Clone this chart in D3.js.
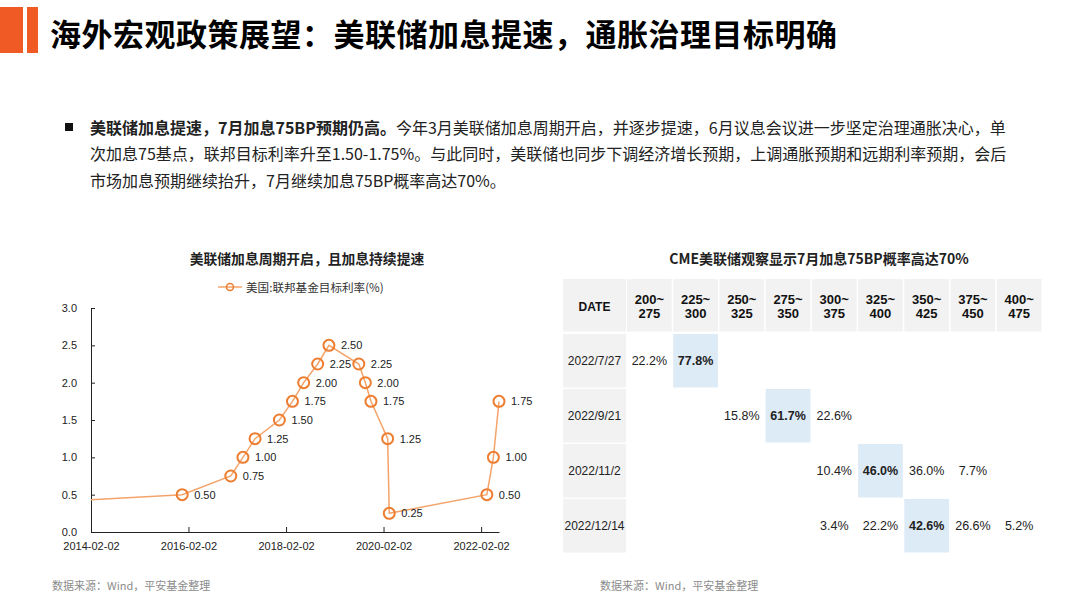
<!DOCTYPE html>
<html><head><meta charset="utf-8">
<script src="https://cdn.jsdelivr.net/npm/d3@7"></script>
<style>
html,body{margin:0;padding:0;background:#fff;}
svg{display:block;}
</style></head>
<body>
<svg id="c" width="1080" height="605"></svg>
<script>
// ---------------- DATA ----------------
const pageTitle = "海外宏观政策展望：美联储加息提速，通胀治理目标明确";
const paraBold = "美联储加息提速，7月加息75BP预期仍高。";
const paraLines = [
  "今年3月美联储加息周期开启，并逐步提速，6月议息会议进一步坚定治理通胀决心，单",
  "次加息75基点，联邦目标利率升至1.50-1.75%。与此同时，美联储也同步下调经济增长预期，上调通胀预期和远期利率预期，会后",
  "市场加息预期继续抬升，7月继续加息75BP概率高达70%。"
];
const leftTitle = "美联储加息周期开启，且加息持续提速";
const seriesName = "美国:联邦基金目标利率(%)";
const rateDates = ["2008-12-16","2015-12-17","2016-12-15","2017-03-16","2017-06-15","2017-12-14","2018-03-22","2018-06-14","2018-09-27","2018-12-20","2019-08-01","2019-09-19","2019-10-31","2020-03-04","2020-03-16","2022-03-17","2022-05-05","2022-06-16"];
const rateValues = [0.25,0.50,0.75,1.00,1.25,1.50,1.75,2.00,2.25,2.50,2.25,2.00,1.75,1.25,0.25,0.50,1.00,1.75];
const xTickDates = ["2014-02-02","2016-02-02","2018-02-02","2020-02-02","2022-02-02"];
const yTickValues = [0,0.5,1.0,1.5,2.0,2.5,3.0];
const xDomain = ["2014-02-02","2022-06-16"];

const rightTitle = "CME美联储观察显示7月加息75BP概率高达70%";
const dateHeader = "DATE";
const binLabels = [["200~","275"],["225~","300"],["250~","325"],["275~","350"],["300~","375"],["325~","400"],["350~","425"],["375~","450"],["400~","475"]];
const meetingDates = ["2022/7/27","2022/9/21","2022/11/2","2022/12/14"];
const probRow1 = [22.2,77.8,null,null,null,null,null,null,null];
const probRow2 = [null,null,15.8,61.7,22.6,null,null,null,null];
const probRow3 = [null,null,null,null,10.4,46.0,36.0,7.7,null];
const probRow4 = [null,null,null,null,3.4,22.2,42.6,26.6,5.2];
const probRows = [probRow1,probRow2,probRow3,probRow4];
const sourceText = "数据来源：Wind，平安基金整理";

// ---------------- DRAW ----------------
const svg = d3.select("#c");
const CJK = "'Noto Sans CJK SC','Noto Sans',sans-serif";
const LAT = "'Liberation Sans',Arial,sans-serif";
const parse = d3.timeParse("%Y-%m-%d");

// header bars
svg.append("rect").attr("x",0).attr("y",7).attr("width",23).attr("height",46).attr("fill","#F05A24");
svg.append("rect").attr("x",27).attr("y",7).attr("width",11).attr("height",46).attr("fill","#F05A24");
svg.append("text").attr("x",50).attr("y",32).attr("dominant-baseline","central")
  .attr("font-family",CJK).attr("font-weight","bold").attr("font-size",31).attr("letter-spacing",0.5).attr("fill","#000")
  .text(pageTitle);

// paragraph
svg.append("rect").attr("x",65).attr("y",123).attr("width",8).attr("height",8).attr("fill","#111");
const lineY = [126.5,153,179.5];
paraLines.forEach((ln,i)=>{
  const t = svg.append("text").attr("x",90).attr("y",lineY[i]).attr("dominant-baseline","central")
    .attr("font-family",CJK).attr("font-size",16).attr("fill","#222");
  if(i===0){ t.append("tspan").attr("font-weight","bold").text(paraBold); }
  t.append("tspan").text(ln);
});

// ---------- left chart ----------
svg.append("text").attr("x",307).attr("y",258).attr("text-anchor","middle").attr("dominant-baseline","central")
  .attr("font-family",CJK).attr("font-weight","bold").attr("font-size",13.8).attr("fill","#222").text(leftTitle);
// legend
svg.append("line").attr("x1",218).attr("x2",242).attr("y1",287).attr("y2",287).attr("stroke","#F4A46A").attr("stroke-width",1.5);
svg.append("circle").attr("cx",230).attr("cy",287).attr("r",3.5).attr("fill","none").attr("stroke","#ED7D31").attr("stroke-width",1.5);
svg.append("text").attr("x",246).attr("y",287).attr("dominant-baseline","central")
  .attr("font-family",CJK).attr("font-size",11.6).attr("fill","#333").text(seriesName);

const x = d3.scaleTime().domain(xDomain.map(parse)).range([91,499]);
const y = d3.scaleLinear().domain([0,3]).range([532,308]);

const yAxis = d3.axisLeft(y).tickValues(yTickValues).tickFormat(d3.format(".1f")).tickSizeInner(-4).tickSizeOuter(0).tickPadding(14);
const gy = svg.append("g").attr("transform","translate(91,0)").call(yAxis);
const xAxis = d3.axisBottom(x).tickValues(xTickDates.map(parse)).tickFormat(d3.timeFormat("%Y-%m-%d")).tickSizeInner(-5).tickSizeOuter(0).tickPadding(10);
const gx = svg.append("g").attr("transform","translate(0,532)").call(xAxis);
[gx,gy].forEach(g=>{
  g.selectAll("path,line").attr("stroke","#222").attr("stroke-width",1);
  g.selectAll("text").attr("font-family",LAT).attr("font-size",11).attr("fill","#222");
});

const pts = rateDates.map((d,i)=>({date:parse(d),v:rateValues[i]}));
svg.append("clipPath").attr("id","clipL").append("rect").attr("x",91).attr("y",290).attr("width",420).attr("height",250);
svg.append("path").datum(pts).attr("clip-path","url(#clipL)")
  .attr("d",d3.line().x(d=>x(d.date)).y(d=>y(d.v)))
  .attr("fill","none").attr("stroke","#F4A46A").attr("stroke-width",1.5);
const vis = pts.filter(d=>d.date>=x.domain()[0]);
svg.selectAll(".mk").data(vis).join("circle").attr("class","mk")
  .attr("cx",d=>x(d.date)).attr("cy",d=>y(d.v)).attr("r",5.5)
  .attr("fill","none").attr("stroke","#ED7D31").attr("stroke-width",2);
svg.selectAll(".lb").data(vis).join("text").attr("class","lb")
  .attr("x",d=>x(d.date)+12).attr("y",d=>y(d.v)).attr("dominant-baseline","central")
  .attr("font-family",LAT).attr("font-size",11).attr("fill","#222")
  .text(d=>d3.format(".2f")(d.v));

svg.append("text").attr("x",52).attr("y",585).attr("dominant-baseline","central")
  .attr("font-family",CJK).attr("font-size",11).attr("fill","#8C8C8C").text(sourceText);

// ---------- right table ----------
svg.append("text").attr("x",819).attr("y",258).attr("text-anchor","middle").attr("dominant-baseline","central")
  .attr("font-family",CJK).attr("font-weight","bold").attr("font-size",14).attr("fill","#222").text(rightTitle);

const colX = d3.scaleBand().domain(d3.range(binLabels.length)).range([627,1043]);
const rowY = d3.scaleBand().domain(d3.range(meetingDates.length)).range([334,554]);
const gap = 1.5;
const dateX0 = 563, dateX1 = 626, headY0 = 279, headY1 = 333;
const grey = "#F2F2F2", blue = "#DDEBF7";

// header
svg.append("rect").attr("x",dateX0).attr("y",headY0).attr("width",dateX1-dateX0).attr("height",headY1-headY0-gap).attr("fill",grey);
svg.append("text").attr("x",(dateX0+dateX1)/2).attr("y",306.5).attr("text-anchor","middle").attr("dominant-baseline","central")
  .attr("font-family",LAT).attr("font-weight","bold").attr("font-size",12).attr("fill","#111").text(dateHeader);
const hg = svg.selectAll(".hc").data(binLabels).join("g").attr("class","hc");
hg.append("rect").attr("x",(d,i)=>colX(i)).attr("y",headY0).attr("width",colX.bandwidth()-gap).attr("height",headY1-headY0-gap).attr("fill",grey);
hg.each(function(d,i){
  const g = d3.select(this);
  d.forEach((s,k)=>{
    g.append("text").attr("x",colX(i)+(colX.bandwidth()-gap)/2).attr("y",k===0?299:313.5)
      .attr("text-anchor","middle").attr("dominant-baseline","central")
      .attr("font-family",LAT).attr("font-weight","bold").attr("font-size",13).attr("fill","#111").text(s);
  });
});

// rows
meetingDates.forEach((md,r)=>{
  const y0 = rowY(r), h = rowY.bandwidth()-gap;
  svg.append("rect").attr("x",dateX0).attr("y",y0).attr("width",dateX1-dateX0).attr("height",h).attr("fill",grey);
  svg.append("text").attr("x",(dateX0+dateX1)/2).attr("y",y0+h/2).attr("text-anchor","middle").attr("dominant-baseline","central")
    .attr("font-family",LAT).attr("font-size",12).attr("fill","#222").text(md);
  const vals = probRows[r];
  const mx = d3.max(vals.filter(v=>v!=null));
  vals.forEach((v,c)=>{
    if(v==null) return;
    const isMax = v===mx;
    if(isMax) svg.append("rect").attr("x",colX(c)).attr("y",y0).attr("width",colX.bandwidth()-gap).attr("height",h).attr("fill",blue);
    svg.append("text").attr("x",colX(c)+(colX.bandwidth()-gap)/2).attr("y",y0+h/2)
      .attr("text-anchor","middle").attr("dominant-baseline","central")
      .attr("font-family",LAT).attr("font-size",12.5).attr("font-weight",isMax?"bold":"normal").attr("fill","#222")
      .text(d3.format(".1f")(v)+"%");
  });
});

svg.append("text").attr("x",600).attr("y",585).attr("dominant-baseline","central")
  .attr("font-family",CJK).attr("font-size",11).attr("fill","#8C8C8C").text(sourceText);
</script>
</body></html>
